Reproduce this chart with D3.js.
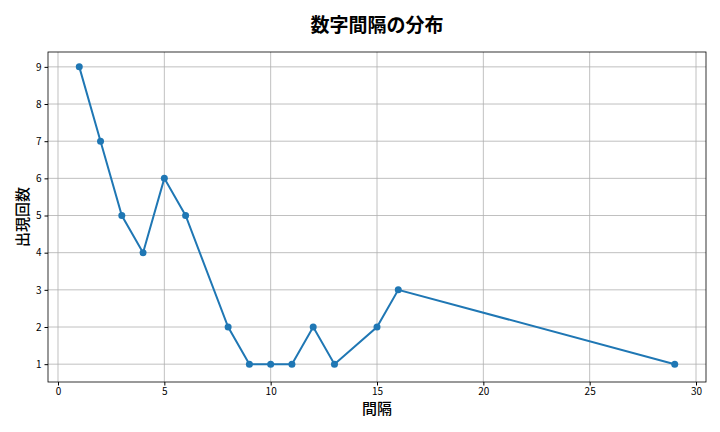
<!DOCTYPE html>
<html><head><meta charset="utf-8">
<script src="https://cdn.jsdelivr.net/npm/d3@7"></script>
<style>body{margin:0;background:#fff}</style></head>
<body><svg id="c" width="720" height="432"></svg>
<script>
const gaps = [1,2,3,4,5,6,8,9,10,11,12,13,15,16,29];
const counts = [9,7,5,4,6,5,2,1,1,1,2,1,2,3,1];
const xTicks = [0,5,10,15,20,25,30];
const yTicks = [1,2,3,4,5,6,7,8,9];
const title = "数字間隔の分布", xLabel = "間隔", yLabel = "出現回数";

const svg = d3.select("#c");
const m = {l:48, r:706, t:52, b:382};
const x = d3.scaleLinear().domain([-0.47, 30.47]).range([m.l, m.r]);
const y = d3.scaleLinear().domain([0.52, 9.4]).range([m.b, m.t]);
const font = "'Noto Sans CJK JP', 'DejaVu Sans', sans-serif";

svg.append("g").selectAll("line").data(xTicks).join("line")
  .attr("x1", d=>x(d)).attr("x2", d=>x(d)).attr("y1", m.t).attr("y2", m.b)
  .attr("stroke", "#b0b0b0").attr("stroke-width", 0.8);
svg.append("g").selectAll("line").data(yTicks).join("line")
  .attr("y1", d=>y(d)).attr("y2", d=>y(d)).attr("x1", m.l).attr("x2", m.r)
  .attr("stroke", "#b0b0b0").attr("stroke-width", 0.8);

const xa = svg.append("g").attr("transform", `translate(0,${m.b})`)
  .call(d3.axisBottom(x).tickValues(xTicks).tickSize(3.5).tickPadding(2));
const ya = svg.append("g").attr("transform", `translate(${m.l},0)`)
  .call(d3.axisLeft(y).tickValues(yTicks).tickSize(3.5).tickPadding(3));
[xa, ya].forEach(a => { a.select(".domain").remove(); a.selectAll("text").attr("font-family", font).attr("font-size", 10).attr("fill", "#000"); a.selectAll("line").attr("stroke", "#000"); });

svg.append("rect").attr("x", m.l).attr("y", m.t).attr("width", m.r-m.l).attr("height", m.b-m.t)
  .attr("fill", "none").attr("stroke", "#000").attr("stroke-width", 0.8);

const pts = gaps.map((g,i)=>[g, counts[i]]);
svg.append("path").datum(pts)
  .attr("d", d3.line().x(d=>x(d[0])).y(d=>y(d[1])))
  .attr("fill", "none").attr("stroke", "#1f77b4").attr("stroke-width", 2);
svg.append("g").selectAll("circle").data(pts).join("circle")
  .attr("cx", d=>x(d[0])).attr("cy", d=>y(d[1])).attr("r", 3.5).attr("fill", "#1f77b4");

svg.append("text").attr("x", (m.l+m.r)/2).attr("y", 32).attr("text-anchor", "middle")
  .attr("font-family", font).attr("font-size", 19).attr("font-weight", "bold").text(title);
svg.append("text").attr("x", (m.l+m.r)/2).attr("y", 414).attr("text-anchor", "middle")
  .attr("font-family", font).attr("font-size", 15).attr("font-weight", 500).text(xLabel);
svg.append("text").attr("transform", `translate(28,${(m.t+m.b)/2}) rotate(-90)`).attr("text-anchor", "middle")
  .attr("font-family", font).attr("font-size", 15).attr("font-weight", 500).text(yLabel);
</script></body></html>
